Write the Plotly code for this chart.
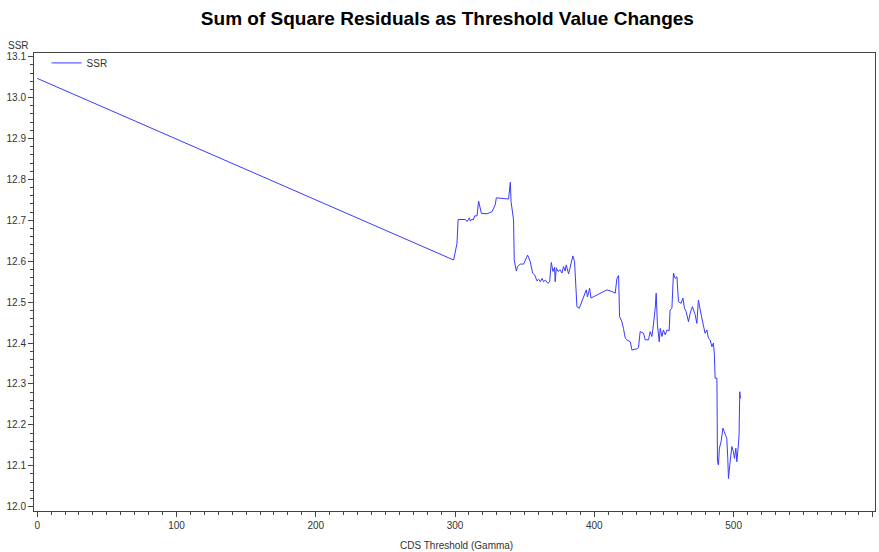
import plotly.graph_objects as go

# CDS threshold (gamma) values
gamma = [0.0, 299.0, 301.4, 302.2, 307.4, 308.6, 310.3, 311.0, 312.2, 313.1, 314.1, 315.8,
         316.9, 317.6, 318.9, 323.0, 326.5, 328.9, 329.6, 338.4, 339.7, 340.2, 342.0, 342.5,
         344.0, 344.9, 346.8, 349.2, 352.1, 354.0, 355.7, 357.1, 358.8, 360.0, 361.2, 362.4,
         363.6, 364.8, 366.7, 367.9, 369.1, 370.3, 371.4, 371.9, 372.7, 373.9, 375.5, 376.7,
         377.9, 379.1, 379.8, 381.5, 383.2, 384.6, 385.8, 386.8, 387.5, 389.2, 390.6, 391.8,
         393.0, 394.2, 395.1, 396.6, 397.6, 399.4, 404.2, 409.0, 412.6, 415.0, 416.2, 417.4,
         418.1, 419.8, 420.9, 422.2, 423.4, 425.8, 427.0, 430.6, 431.7, 432.9, 435.3, 436.5,
         438.9, 440.1, 441.3, 442.0, 443.7, 444.4, 445.3, 446.6, 447.3, 448.5, 449.6, 450.9,
         452.1, 453.7, 454.4, 455.7, 456.8, 458.0, 459.3, 460.4, 462.3, 463.6, 464.7, 465.9,
         467.6, 468.8, 470.4, 472.4, 473.6, 474.7, 476.7, 478.3, 479.5, 480.8, 481.9, 483.1,
         484.4, 485.5, 486.2, 486.7, 488.0, 488.4, 489.1, 489.8, 491.0, 492.3, 493.9, 495.1,
         495.8, 496.3, 497.5, 498.7, 499.9, 500.6, 501.6, 502.3, 503.4, 503.9, 504.4, 504.9]

# Sum of square residuals
ssr = [13.047, 12.603, 12.644, 12.702, 12.702, 12.697, 12.706, 12.698, 12.703, 12.701, 12.711, 12.711,
       12.747, 12.733, 12.717, 12.716, 12.721, 12.738, 12.755, 12.752, 12.793, 12.746, 12.701, 12.603,
       12.576, 12.587, 12.593, 12.593, 12.615, 12.599, 12.571, 12.567, 12.552, 12.556, 12.550, 12.558,
       12.550, 12.554, 12.546, 12.550, 12.597, 12.575, 12.585, 12.550, 12.584, 12.575, 12.579, 12.571,
       12.587, 12.576, 12.591, 12.569, 12.593, 12.613, 12.599, 12.534, 12.489, 12.485, 12.497, 12.510,
       12.518, 12.530, 12.513, 12.534, 12.510, 12.513, 12.522, 12.530, 12.526, 12.522, 12.558, 12.565,
       12.465, 12.452, 12.436, 12.412, 12.408, 12.403, 12.383, 12.386, 12.389, 12.428, 12.424, 12.408,
       12.408, 12.428, 12.416, 12.432, 12.485, 12.522, 12.444, 12.403, 12.436, 12.416, 12.432, 12.420,
       12.432, 12.430, 12.481, 12.485, 12.571, 12.558, 12.562, 12.501, 12.497, 12.510, 12.485, 12.477,
       12.452, 12.473, 12.489, 12.469, 12.448, 12.505, 12.469, 12.440, 12.424, 12.432, 12.412, 12.408,
       12.391, 12.400, 12.371, 12.314, 12.314, 12.110, 12.102, 12.143, 12.159, 12.192, 12.175, 12.167,
       12.118, 12.069, 12.110, 12.147, 12.134, 12.118, 12.143, 12.110, 12.151, 12.175, 12.281, 12.265]

title_text = "Sum of Square Residuals as Threshold Value Changes"
x_title = "CDS Threshold (Gamma)"
y_title = "SSR"
series_name = "SSR"

FONT = "Liberation Sans, Arial, sans-serif"

fig = go.Figure()
fig.add_trace(go.Scatter(x=gamma, y=ssr, mode="lines", name=series_name,
                         line=dict(color="#3a3aff", width=1)))

axis_common = dict(showline=True, mirror=True, linecolor="#444444", linewidth=1,
                   showgrid=False, zeroline=False, ticks="outside", ticklen=5,
                   tickcolor="#444444", automargin=False,
                   tickfont=dict(family=FONT, size=10, color="#333333"))

fig.update_layout(
    width=879, height=552,
    margin=dict(l=34, r=4, t=53, b=41, autoexpand=False),
    paper_bgcolor="white", plot_bgcolor="white",
    title=dict(text="<b>" + title_text + "</b>", x=0.509, xanchor="center",
               y=1 - 18 / 552, yanchor="middle", automargin=False,
               font=dict(family=FONT, size=19, color="black")),
    xaxis=dict(range=[-2.3, 601.5], tickmode="linear", tick0=0, dtick=100,
               minor=dict(dtick=10, ticklen=3, ticks="outside", tickcolor="#444444"),
               **axis_common),
    yaxis=dict(range=[11.9895, 13.109], tickmode="linear", tick0=12.0, dtick=0.1,
               tickformat=".1f",
               minor=dict(dtick=0.02, ticklen=3, ticks="outside", tickcolor="#444444"),
               **axis_common),
    showlegend=True,
    legend=dict(x=0.015, y=1.01, xanchor="left", yanchor="top",
                bgcolor="rgba(0,0,0,0)", font=dict(family=FONT, size=10, color="#333333")),
    annotations=[
        dict(text=x_title, xref="paper", yref="paper", x=0.502, y=-34 / 458,
             xanchor="center", yanchor="middle", showarrow=False,
             font=dict(family=FONT, size=10, color="#333333")),
        dict(text=y_title, xref="paper", yref="paper", x=(18 - 34) / 841, y=(511 - 46) / 458,
             xanchor="center", yanchor="middle", showarrow=False,
             font=dict(family=FONT, size=10, color="#333333")),
    ],
)

fig.write_html("out.html", config={"displayModeBar": False},
               post_script="document.body.style.margin='0px';document.body.style.overflow='hidden';")
